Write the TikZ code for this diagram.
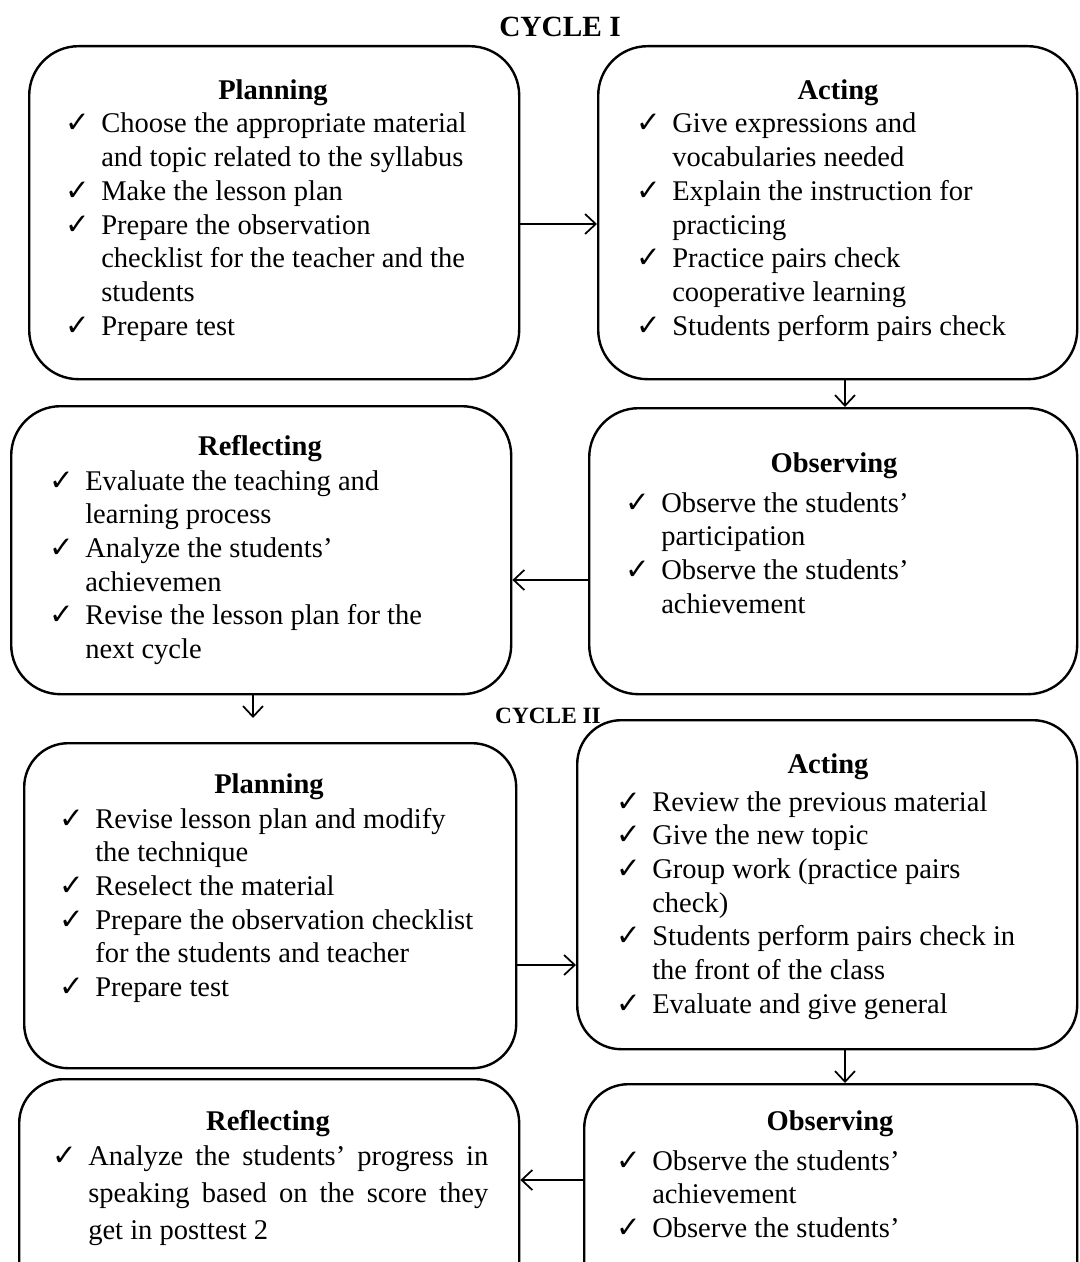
\documentclass[tikz,border=0pt]{standalone}
\usepackage{fontspec}
\setmainfont{Liberation Serif}
\newfontfamily\symf{DejaVu Sans}
\usetikzlibrary{arrows.meta}
\newlength\px \setlength\px{0.75pt}
\newcommand\ck{{\symf\fontsize{22}{22}\selectfont ✓}}
\newcommand\itm{\makebox[36\px][l]{\ck}}
\newcommand\itemfont{\fontsize{21.4}{25.3}\selectfont}
\begin{document}
\begin{tikzpicture}[x=0.75pt,y=-0.75pt,
  box/.style={draw, line width=1.8pt, anchor=north west, inner sep=0pt},
  boxA/.style={box, rounded corners=37pt},
  boxB/.style={box, rounded corners=33pt},
  ttl/.style={anchor=base, inner sep=0pt, font=\itemfont\bfseries},
  itemsnode/.style={anchor=base west, inner sep=0pt, font=\itemfont},
  arr/.style={line width=1.3pt, -{Straight Barb[length=8pt,width=15pt,line width=1.3pt]}}]
\useasboundingbox (0,0) rectangle (1079,1262);
\clip (0,0) rectangle (1079,1262);

% cycle titles
\node[anchor=base, inner sep=0pt, font=\fontsize{22}{26}\selectfont\bfseries] (c1) at (560,37) {CYCLE I};
\node[anchor=base, inner sep=0pt, font=\fontsize{17.5}{20}\selectfont\bfseries] (c2) at (548,723) {CYCLE II};

% boxes
\node[boxA, minimum width=490\px, minimum height=333\px] (p1) at (28,45) {};
\node[boxA, minimum width=479\px, minimum height=333\px] (a1) at (597,45) {};
\node[boxA, minimum width=500\px, minimum height=288\px] (r1) at (10,405) {};
\node[boxA, minimum width=488\px, minimum height=286\px] (o1) at (588,407) {};
\node[boxB, minimum width=492\px, minimum height=325\px] (p2) at (23,742) {};
\node[boxB, minimum width=500\px, minimum height=329\px] (a2) at (576,719) {};
\node[boxB, minimum width=500\px, minimum height=230\px] (r2) at (18,1078) {};
\node[boxB, minimum width=493\px, minimum height=230\px] (o2) at (583,1083) {};

% Planning I
\node[ttl] (p1t) at (273,100) {Planning};
\node[itemsnode] (p1i) at (65,133) {\begin{tabular}[t]{@{}l@{}l@{}}
\itm & Choose the appropriate material\\
 & and topic related to the syllabus\\
\itm & Make the lesson plan\\
\itm & Prepare the observation\\
 & checklist for the teacher and the\\
 & students\\
\itm & Prepare test
\end{tabular}};

% Acting I
\node[ttl] (a1t) at (838,100) {Acting};
\node[itemsnode] (a1i) at (636,133) {\begin{tabular}[t]{@{}l@{}l@{}}
\itm & Give expressions and\\
 & vocabularies needed\\
\itm & Explain the instruction for\\
 & practicing\\
\itm & Practice pairs check\\
 & cooperative learning\\
\itm & Students perform pairs check
\end{tabular}};

% Reflecting I
\node[ttl] (r1t) at (260,455) {Reflecting};
\node[itemsnode] (r1i) at (49,490) {\begin{tabular}[t]{@{}l@{}l@{}}
\itm & Evaluate the teaching and\\
 & learning process\\
\itm & Analyze the students’\\
 & achievemen\\
\itm & Revise the lesson plan for the\\
 & next cycle
\end{tabular}};

% Observing I
\node[ttl] (o1t) at (834,472) {Observing};
\node[itemsnode] (o1i) at (625,512) {\begin{tabular}[t]{@{}l@{}l@{}}
\itm & Observe the students’\\
 & participation\\
\itm & Observe the students’\\
 & achievement
\end{tabular}};

% Planning II
\node[ttl] (p2t) at (269,793) {Planning};
\node[itemsnode] (p2i) at (59,828) {\begin{tabular}[t]{@{}l@{}l@{}}
\itm & Revise lesson plan and modify\\
 & the technique\\
\itm & Reselect the material\\
\itm & Prepare the observation checklist\\
 & for the students and teacher\\
\itm & Prepare test
\end{tabular}};

% Acting II
\node[ttl] (a2t) at (828,773) {Acting};
\node[itemsnode] (a2i) at (616,811) {\begin{tabular}[t]{@{}l@{}l@{}}
\itm & Review the previous material\\
\itm & Give the new topic\\
\itm & Group work (practice pairs\\
 & check)\\
\itm & Students perform pairs check in\\
 & the front of the class\\
\itm & Evaluate and give general
\end{tabular}};

% Observing II
\node[ttl] (o2t) at (830,1130) {Observing};
\node[itemsnode] (o2i) at (616,1170) {\begin{tabular}[t]{@{}l@{}l@{}}
\itm & Observe the students’\\
 & achievement\\
\itm & Observe the students’
\end{tabular}};

% Reflecting II
\node[ttl] (r2t) at (268,1130) {Reflecting};
\node[itemsnode, font=\fontsize{21.4}{27.75}\selectfont] (r2i) at (52,1165) {\begin{tabular}[t]{@{}l@{}l@{}}
\itm & \makebox[400\px][s]{Analyze the students’ progress in}\\
 & \makebox[400\px][s]{speaking based on the score they}\\
 & get in posttest 2
\end{tabular}};

% connectors
\coordinate (ya) at (0,224);
\coordinate (xb) at (845,0);
\coordinate (yc) at (0,580);
\coordinate (r1end) at (253,718);
\coordinate (yd) at (0,965);
\coordinate (yf) at (0,1180);
\draw[arr] (p1.east |- ya) -- (a1.west |- ya);
\draw[arr] (a1.south -| xb) -- (o1.north -| xb);
\draw[arr] (o1.west |- yc) -- (r1.east |- yc);
\draw[arr] (r1.south -| r1end) -- (r1end);
\draw[arr] (p2.east |- yd) -- (a2.west |- yd);
\draw[arr] (a2.south -| xb) -- (o2.north -| xb);
\draw[arr] (o2.west |- yf) -- (r2.east |- yf);
\end{tikzpicture}
\end{document}
